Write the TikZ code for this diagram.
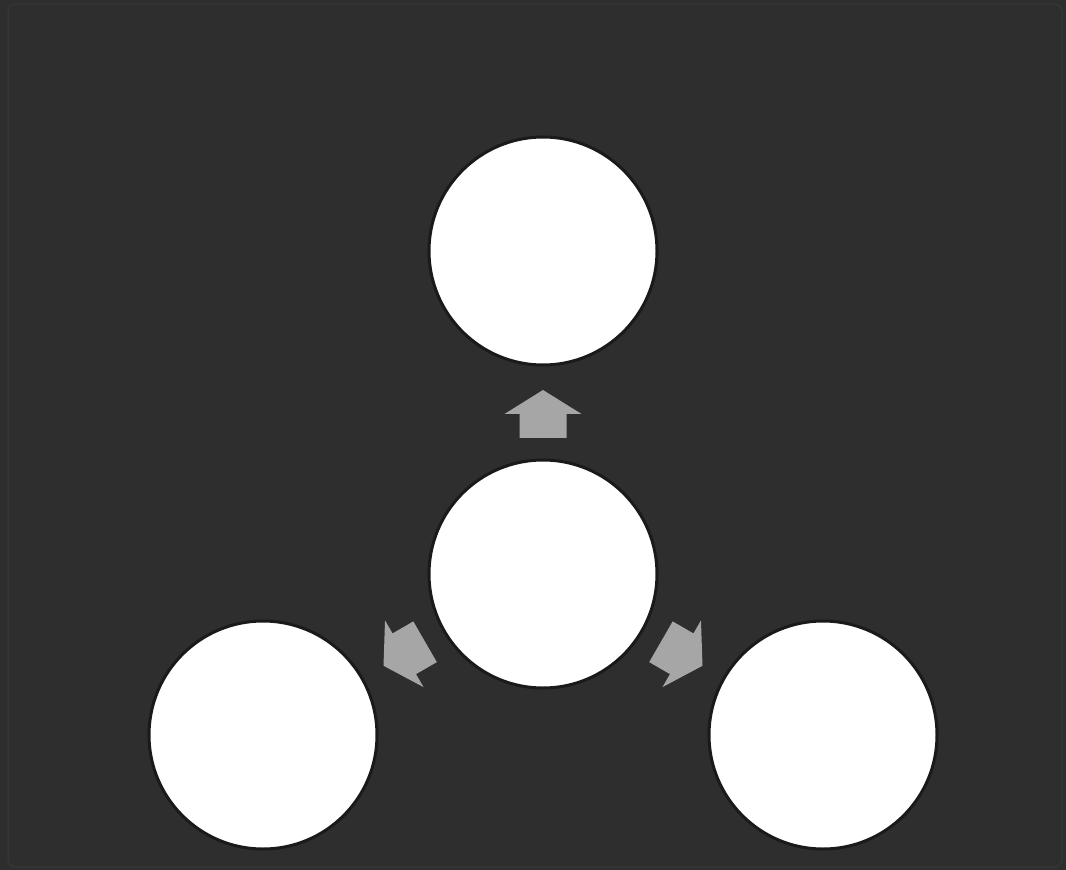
\documentclass[tikz,border=0pt]{standalone}
\usetikzlibrary{calc}
\definecolor{bg}{HTML}{2E2E2E}
\definecolor{frame}{HTML}{353535}
\definecolor{ring}{HTML}{1A1A1A}
\definecolor{arrowgray}{HTML}{A6A6A6}
\tikzset{
  bubble/.style={circle, draw=ring, line width=3pt, fill=white, inner sep=0pt, minimum size=228pt},
  blockarrow/.style={fill=arrowgray, draw=none}
}
\newcommand{\blockarrowpath}{(-24,-23.5) -- (0,-23.5) -- (0,-38.5) -- (24,0) -- (0,38.5) -- (0,23.5) -- (-24,23.5) -- cycle}
\begin{document}
\begin{tikzpicture}[x=1pt,y=-1pt]
\useasboundingbox (0,0) rectangle (1066,870);
\fill[bg] (0,0) rectangle (1066,870);
\draw[frame, line width=1.5pt, rounded corners=8pt] (8,4) rectangle (1062,867);

\node[bubble] (top) at (543,251) {};
\node[bubble] (mid) at (543,574) {};
\node[bubble] (left) at (263,735) {};
\node[bubble] (right) at (823,735) {};

\coordinate (aup) at ($(mid)!0.4954!(top)$);
\coordinate (aleft) at ($(mid)!0.4954!(left)$);
\coordinate (aright) at ($(mid)!0.4954!(right)$);

\begin{scope}[shift={(aup)}, rotate=90]
  \fill[blockarrow] \blockarrowpath;
\end{scope}
\begin{scope}[shift={(aleft)}, rotate=210]
  \fill[blockarrow] \blockarrowpath;
\end{scope}
\begin{scope}[shift={(aright)}, rotate=330]
  \fill[blockarrow] \blockarrowpath;
\end{scope}
\end{tikzpicture}
\end{document}
